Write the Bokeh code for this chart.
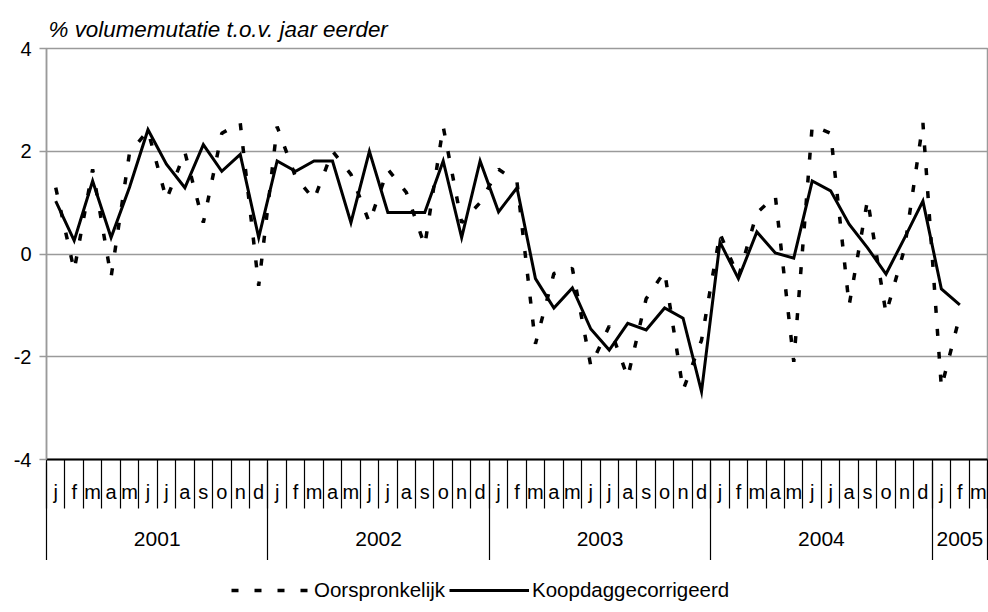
from bokeh.plotting import figure
from bokeh.layouts import column
from bokeh.models import (Range1d, LinearAxis, FixedTicker, Grid, Legend,
                          LegendItem, ColumnDataSource)
from bokeh.embed import file_html
from bokeh.resources import INLINE

# ---------------- data ----------------
years = ["2001", "2002", "2003", "2004", "2005"]
months_per_year = [12, 12, 12, 12, 3]
month_letters = ["j", "f", "m", "a", "m", "j", "j", "a", "s", "o", "n", "d"]

oorspronkelijk = [
    1.29, -0.32, 1.65, -0.45, 1.97, 2.40, 1.06, 1.98, 0.61, 2.35, 2.55, -0.62,
    2.48, 1.50, 1.06, 2.00, 1.55, 0.61, 1.65, 1.20, 0.16, 2.48, 0.61, 1.00,
    1.65, 1.40, -1.75, -0.38, -0.28, -2.18, -1.40, -2.40, -0.87, -0.34, -2.65, -1.68,
    0.40, -0.45, 0.80, 1.13, -2.10, 2.50, 2.35, -1.00, 1.06, -1.16, 0.10, 2.55,
    -2.60, -1.20,
]
koopdaggecorrigeerd = [
    1.03, 0.26, 1.42, 0.32, 1.30, 2.42, 1.75, 1.29, 2.13, 1.61, 1.94, 0.32,
    1.81, 1.61, 1.81, 1.81, 0.61, 2.00, 0.81, 0.81, 0.81, 1.81, 0.32, 1.81,
    0.82, 1.29, -0.48, -1.05, -0.66, -1.46, -1.87, -1.35, -1.48, -1.05, -1.25, -2.68,
    0.23, -0.48, 0.43, 0.02, -0.08, 1.42, 1.23, 0.58, 0.12, -0.39, 0.31, 1.03,
    -0.68, -0.99,
]
y_ticks = [-4, -2, 0, 2, 4]
y_tick_labels = ["-4", "-2", "0", "2", "4"]
subtitle = "% volumemutatie t.o.v. jaar eerder"
series_names = ["Oorspronkelijk", "Koopdaggecorrigeerd"]

# ---------------- derived category positions ----------------
month_labels = []
for n in months_per_year:
    month_labels += month_letters[:n]
n_cat = len(month_labels)
month_pos = list(range(n_cat))
month_bounds = [i - 0.5 for i in range(n_cat + 1)]

year_centers, year_bounds = [], [-0.5]
start = 0
for n in months_per_year:
    year_centers.append(start + (n - 1) / 2)
    start += n
    year_bounds.append(start - 0.5)

xs = list(range(len(koopdaggecorrigeerd)))
src = ColumnDataSource(dict(x=xs, orig=oorspronkelijk, koop=koopdaggecorrigeerd))

FONT = "Liberation Sans"
GREY = "#9a9a9a"
DASH = "7 16"

p = figure(width=988, height=560,
           x_range=Range1d(-0.5, n_cat - 0.5), y_range=Range1d(y_ticks[0], y_ticks[-1]),
           output_backend="svg", toolbar_location=None,
           x_axis_location=None, y_axis_location=None,
           min_border_left=46, min_border_right=1, min_border_top=48, min_border_bottom=101,
           title=subtitle)
p.xgrid.visible = False
p.ygrid.visible = False
p.background_fill_color = "white"
p.border_fill_color = "white"
p.outline_line_color = GREY
p.outline_line_width = 1.5

p.title.text_font = FONT
p.title.text_font_size = "22.4px"
p.title.text_font_style = "italic"
p.title.text_color = "black"
p.title.align = "left"
p.title.offset = 2
p.title.standoff = 14

# y axis
yaxis = LinearAxis(ticker=FixedTicker(ticks=y_ticks),
                   major_label_overrides={t: s for t, s in zip(y_ticks, y_tick_labels)},
                   axis_line_color=GREY, axis_line_width=1.5,
                   major_tick_line_color=GREY, major_tick_line_width=1.5,
                   major_tick_out=7, major_tick_in=0,
                   minor_tick_line_color=None,
                   major_label_text_font=FONT, major_label_text_font_size="20px",
                   major_label_text_color="black", major_label_standoff=8)
p.add_layout(yaxis, "left")
p.add_layout(Grid(dimension=1, ticker=FixedTicker(ticks=y_ticks[1:-1]),
                  grid_line_color=GREY, grid_line_width=1.5))

# x axis: months
month_axis = LinearAxis(ticker=FixedTicker(ticks=month_pos, minor_ticks=month_bounds),
                        major_label_overrides={i: lab for i, lab in zip(month_pos, month_labels)},
                        axis_line_color="black", axis_line_width=2,
                        major_tick_out=0, major_tick_in=0,
                        minor_tick_out=49, minor_tick_in=0,
                        minor_tick_line_color="black", minor_tick_line_width=1.2,
                        major_label_text_font=FONT, major_label_text_font_size="20px",
                        major_label_text_color="black", major_label_standoff=-28)
p.add_layout(month_axis, "below")

# x axis: years
year_axis = LinearAxis(ticker=FixedTicker(ticks=year_centers, minor_ticks=year_bounds),
                       major_label_overrides={c: y for c, y in zip(year_centers, years)},
                       axis_line_color=None,
                       major_tick_out=0, major_tick_in=0,
                       minor_tick_out=57, minor_tick_in=43,
                       minor_tick_line_color="black", minor_tick_line_width=1.2,
                       major_label_text_font=FONT, major_label_text_font_size="21px",
                       major_label_text_color="black", major_label_standoff=-31)
p.add_layout(year_axis, "below")

p.line("x", "orig", source=src, line_color="black", line_width=3.5, line_dash=DASH)
p.line("x", "koop", source=src, line_color="black", line_width=3, line_join="miter")

# ---------------- legend strip (series lines lie outside its visible y range) ----------------
lf = figure(width=988, height=52, output_backend="svg", toolbar_location=None,
            x_range=Range1d(-0.5, n_cat - 0.5), y_range=Range1d(10, 11),
            x_axis_location=None, y_axis_location=None, min_border=0)
lf.xgrid.visible = False
lf.ygrid.visible = False
lf.outline_line_color = None
l_orig = lf.line("x", "orig", source=src, line_color="black", line_width=3.5, line_dash=DASH)
l_koop = lf.line("x", "koop", source=src, line_color="black", line_width=3)
legend = Legend(items=[LegendItem(label=series_names[0], renderers=[l_orig]),
                       LegendItem(label=series_names[1], renderers=[l_koop])],
                orientation="horizontal", location=(185, 10),
                glyph_width=80, glyph_height=20, label_standoff=3, spacing=4,
                padding=0, margin=0, border_line_color=None, background_fill_alpha=0,
                label_text_font=FONT, label_text_font_size="20.5px", label_text_color="black")
lf.add_layout(legend)

open("out.html", "w").write(file_html(column(p, lf, spacing=0), INLINE))
